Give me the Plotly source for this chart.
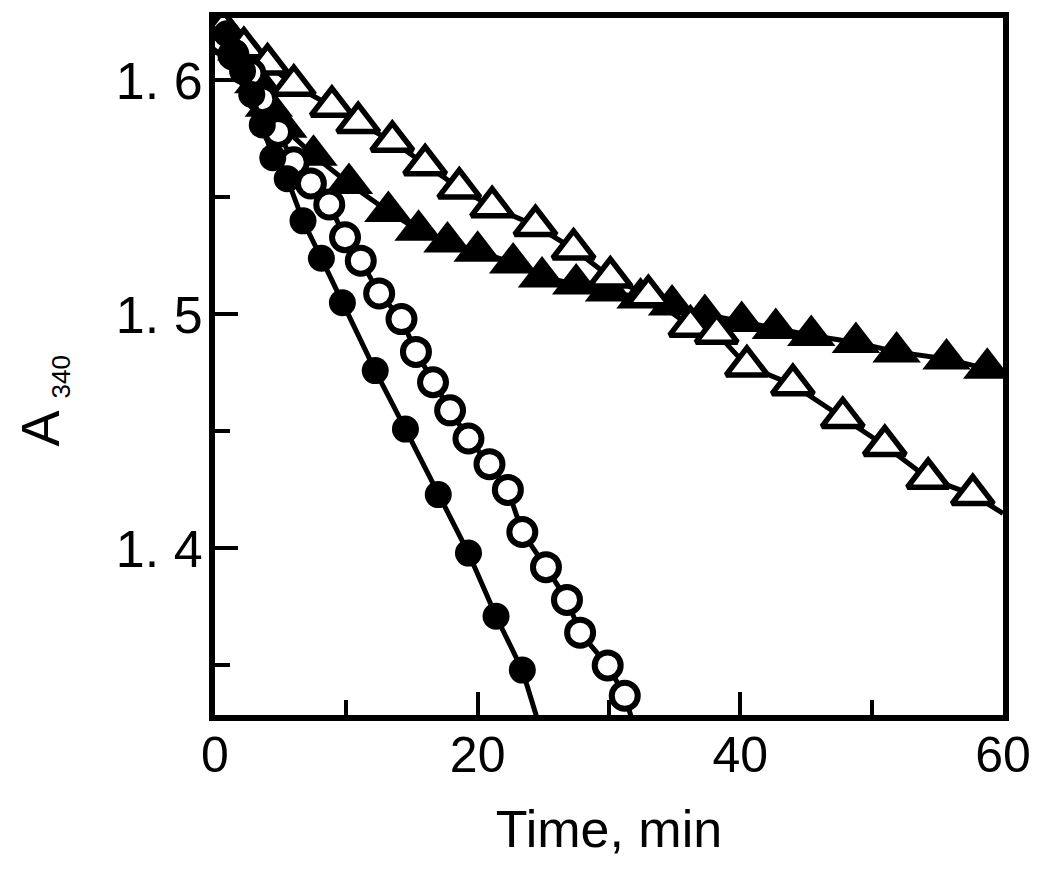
import plotly.graph_objects as go

# ---- data ----
# filled circles
fc_t = [0.9, 1.5, 2.1, 2.8, 3.6, 4.4, 5.5, 6.7, 8.1, 9.7, 12.2, 14.5, 17.0, 19.3, 21.4, 23.4]
fc_a = [1.620, 1.612, 1.604, 1.594, 1.581, 1.567, 1.558, 1.540, 1.524, 1.505, 1.476, 1.451, 1.423, 1.398, 1.371, 1.348]
fc_end = (24.6, 1.326)

# open circles
oc_t = [0.6, 1.4, 2.7, 3.6, 4.8, 6.0, 7.3, 8.7, 9.9, 11.1, 12.5, 14.2, 15.3, 16.6, 17.9, 19.3, 20.9, 22.3, 23.4, 25.2, 26.8, 27.8, 29.9, 31.2]
oc_a = [1.617, 1.611, 1.603, 1.592, 1.578, 1.565, 1.556, 1.547, 1.533, 1.523, 1.509, 1.498, 1.484, 1.471, 1.459, 1.447, 1.436, 1.425, 1.407, 1.392, 1.378, 1.364, 1.350, 1.337]
oc_end = (31.8, 1.326)

# open triangles
ot_t = [0.6, 2.2, 4.0, 6.0, 8.9, 10.9, 13.5, 16.0, 18.6, 21.1, 24.4, 27.3, 30.1, 33.0, 36.2, 38.2, 40.5, 44.0, 47.8, 51.0, 54.3, 57.7]
ot_a = [1.622, 1.614, 1.607, 1.598, 1.589, 1.582, 1.574, 1.564, 1.554, 1.546, 1.538, 1.528, 1.516, 1.508, 1.495, 1.492, 1.478, 1.470, 1.456, 1.444, 1.430, 1.423]
ot_end = (60.0, 1.415)

# filled triangles
ft_t = [0.8, 2.0, 3.3, 4.1, 5.2, 7.5, 10.2, 13.2, 15.5, 17.7, 20.0, 22.7, 24.9, 27.5, 30.0, 32.4, 34.8, 37.3, 40.1, 42.7, 45.4, 48.8, 51.9, 55.7, 58.8]
ft_a = [1.621, 1.613, 1.599, 1.589, 1.580, 1.568, 1.556, 1.544, 1.536, 1.531, 1.527, 1.522, 1.516, 1.513, 1.510, 1.507, 1.504, 1.500, 1.497, 1.494, 1.491, 1.488, 1.484, 1.481, 1.477]
ft_end = (60.0, 1.475)

x_ticks = [0, 20, 40, 60]
x_ticklabels = ["0", "20", "40", "60"]
y_ticks = [1.4, 1.5, 1.6]
y_ticklabels = ["1. 4", "1. 5", "1. 6"]

FONT = "Liberation Sans, Arial, sans-serif"

fig = go.Figure()

def add_series(t, a, end, symbol, size, fill, lw):
    fig.add_trace(go.Scatter(
        x=t + [end[0]], y=a + [end[1]], mode="lines",
        line=dict(color="black", width=5), showlegend=False, hoverinfo="skip"))
    fig.add_trace(go.Scatter(
        x=t, y=a, mode="markers", showlegend=False,
        marker=dict(symbol=symbol, size=size, color=fill,
                    line=dict(color="black", width=lw))))

add_series(ft_t, ft_a, ft_end, "triangle-up", 42, "black", 0)
add_series(ot_t, ot_a, ot_end, "triangle-up", 36, "white", 5.5)
add_series(oc_t, oc_a, oc_end, "circle", 26, "white", 6)
add_series(fc_t, fc_a, fc_end, "circle", 27, "black", 0)

fig.update_layout(
    width=1050, height=879,
    margin=dict(l=207, r=55, t=4, b=172),
    paper_bgcolor="white", plot_bgcolor="white",
    font=dict(family=FONT, color="black"),
    annotations=[dict(
        text="A <sub><span style='font-size:26px'>340</span></sub>",
        xref="paper", yref="paper", x=-0.218, y=0.45,
        xanchor="center", yanchor="middle", textangle=-90, showarrow=False,
        font=dict(size=54, family=FONT, color="black"))],
)
fig.update_xaxes(
    range=[0, 60], tickvals=x_ticks, ticktext=x_ticklabels,
    ticks="inside", ticklen=23, tickwidth=4, tickcolor="black",
    minor=dict(dtick=10, tick0=0, ticks="inside", ticklen=15, tickwidth=4, tickcolor="black"),
    showline=True, linewidth=6, linecolor="black", mirror=True,
    showgrid=False, zeroline=False,
    tickfont=dict(size=50, family=FONT), ticklabelstandoff=-9,
    title=dict(text="Time, min", font=dict(size=52, family=FONT), standoff=31),
)
fig.update_yaxes(
    range=[1.3288, 1.6267], tickvals=y_ticks, ticktext=y_ticklabels,
    ticks="inside", ticklen=23, tickwidth=4, tickcolor="black",
    minor=dict(tickvals=[1.35, 1.45, 1.55], ticks="inside", ticklen=15, tickwidth=4, tickcolor="black"),
    showline=True, linewidth=6, linecolor="black", mirror=True,
    showgrid=False, zeroline=False,
    tickfont=dict(size=52, family=FONT), ticklabelstandoff=-4,
)

fig.write_html("out.html")
